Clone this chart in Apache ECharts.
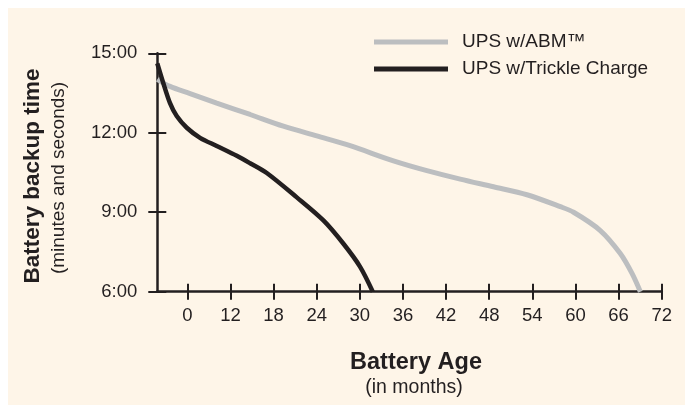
<!DOCTYPE html>
<html>
<head>
<meta charset="utf-8">
<script src="https://cdn.jsdelivr.net/npm/echarts@6/dist/echarts.min.js"></script>
<style>
  html, body { margin: 0; padding: 0; background: #fff; }
  #chart { width: 689px; height: 406px; }
</style>
</head>
<body>
<div id="chart"></div>
<script>
// x positions are axis positions; the first tick (at 6) is printed as "0" like the original
const xTickValues = [6, 12, 18, 24, 30, 36, 42, 48, 54, 60, 66, 72];
const xTickLabels = ['0', '12', '18', '24', '30', '36', '42', '48', '54', '60', '66', '72'];
const yTickValues = [6, 9, 12, 15];
const yTickLabels = ['6:00', '9:00', '12:00', '15:00'];

// backup time in minutes
const abmX = [1.82, 3.59, 6.38, 10.09, 14.73, 19.36, 24.01, 28.65, 34.68, 39.33, 43.97, 48.6, 53.25, 57.89, 59.74, 63.46, 66.24, 67.87, 69.03];
const abmY = [14.02, 13.75, 13.48, 13.12, 12.69, 12.25, 11.88, 11.51, 10.94, 10.57, 10.25, 9.96, 9.66, 9.21, 9.0, 8.31, 7.44, 6.69, 6.0];
const trickleX = [1.82, 2.66, 3.59, 4.52, 5.92, 7.77, 10.09, 12.88, 14.73, 17.05, 21.23, 24.93, 27.72, 30.04, 31.8];
const trickleY = [14.62, 13.87, 13.12, 12.63, 12.19, 11.81, 11.5, 11.13, 10.85, 10.48, 9.56, 8.69, 7.81, 6.94, 6.0];

const seriesNames = ['UPS w/ABM\u2122', 'UPS w/Trickle Charge'];

const ink = '#231f20';
const font = "'Liberation Sans', Arial, Helvetica, sans-serif";

function pairs(xs, ys) {
    return xs.map(function (x, i) { return [x, ys[i]]; });
}

const xLabelMap = {};
xTickValues.forEach(function (v, i) { xLabelMap[v] = xTickLabels[i]; });
const yLabelMap = {};
yTickValues.forEach(function (v, i) { yLabelMap[v] = yTickLabels[i]; });

const xBase = {
    type: 'value',
    position: 'bottom',
    min: 1.82,
    max: 72,
    splitLine: {show: false}
};
const yBase = {
    type: 'value',
    position: 'left',
    min: 6,
    max: 15,
    splitLine: {show: false}
};

const chart = echarts.init(document.getElementById('chart'));

const option = {
    animation: false,
    backgroundColor: '#fff',
    graphic: [
        {
            type: 'rect', z: -10,
            shape: {x: 8, y: 8, width: 677, height: 397},
            style: {fill: '#fef5e8'}
        },
        {
            type: 'text', x: 33, y: 176, rotation: Math.PI / 2,
            style: {
                text: 'Battery backup time', fill: ink,
                font: "bold 22.5px " + font,
                textAlign: 'center', textVerticalAlign: 'middle'
            }
        },
        {
            type: 'text', x: 59, y: 178, rotation: Math.PI / 2,
            style: {
                text: '(minutes and seconds)', fill: ink,
                font: "19px " + font,
                textAlign: 'center', textVerticalAlign: 'middle'
            }
        },
        {
            type: 'text', x: 416, y: 363,
            style: {
                text: 'Battery Age', fill: ink,
                font: "bold 23.5px " + font,
                textAlign: 'center', textVerticalAlign: 'middle'
            }
        },
        {
            type: 'text', x: 414, y: 388,
            style: {
                text: '(in months)', fill: ink,
                font: "19.5px " + font,
                textAlign: 'center', textVerticalAlign: 'middle'
            }
        }
    ],
    legend: {
        orient: 'vertical',
        left: 374,
        top: 32,
        padding: 0,
        itemWidth: 74,
        itemHeight: 5,
        itemGap: 7,
        icon: 'rect',
        textStyle: {
            color: ink,
            fontSize: 19,
            fontFamily: font,
            lineHeight: 20,
            padding: [0, 0, 0, 9]
        },
        data: seriesNames
    },
    grid: {
        left: 157.3,
        right: 27.3,
        top: 53.3,
        bottom: 114.3,
        containLabel: false
    },
    xAxis: [
        Object.assign({}, xBase, {
            axisLine: {show: true, lineStyle: {color: ink, width: 2.5}},
            axisTick: {show: true, inside: false, length: 8, customValues: xTickValues,
                lineStyle: {color: ink, width: 2}},
            axisLabel: {
                show: true, customValues: xTickValues, margin: 15,
                color: ink, fontSize: 18.5, fontFamily: font,
                formatter: function (v) { return xLabelMap[v] !== undefined ? xLabelMap[v] : ''; }
            }
        }),
        Object.assign({}, xBase, {
            axisLine: {show: false},
            axisTick: {show: true, inside: true, length: 8, customValues: xTickValues,
                lineStyle: {color: ink, width: 2}},
            axisLabel: {show: false}
        })
    ],
    yAxis: [
        Object.assign({}, yBase, {
            axisLine: {show: true, lineStyle: {color: ink, width: 2.5}},
            axisTick: {show: true, inside: false, length: 9, customValues: yTickValues,
                lineStyle: {color: ink, width: 2}},
            axisLabel: {
                show: true, customValues: yTickValues, margin: 20,
                color: ink, fontSize: 18.5, fontFamily: font,
                formatter: function (v) { return yLabelMap[v] !== undefined ? yLabelMap[v] : ''; }
            }
        }),
        Object.assign({}, yBase, {
            axisLine: {show: false},
            axisTick: {show: true, inside: true, length: 9, customValues: yTickValues,
                lineStyle: {color: ink, width: 2}},
            axisLabel: {show: false}
        })
    ],
    series: [
        {
            name: seriesNames[0],
            type: 'line',
            smooth: 0.3,
            showSymbol: false,
            color: '#bcbec0',
            lineStyle: {width: 5, color: '#bcbec0'},
            data: pairs(abmX, abmY)
        },
        {
            name: seriesNames[1],
            type: 'line',
            smooth: 0.3,
            showSymbol: false,
            color: ink,
            lineStyle: {width: 4.5, color: ink},
            data: pairs(trickleX, trickleY)
        }
    ]
};

chart.setOption(option);
</script>
</body>
</html>
